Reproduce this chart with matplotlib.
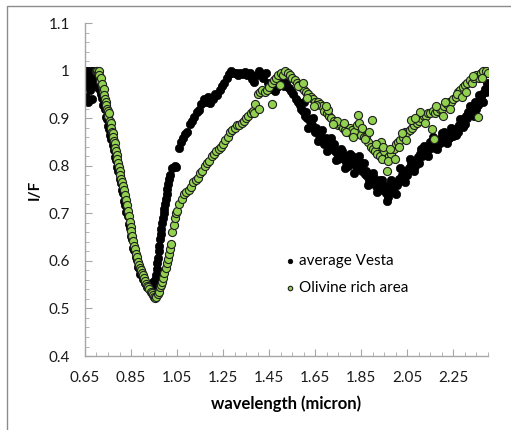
import matplotlib.pyplot as plt
from matplotlib.patches import Rectangle

# --- DATA ---
# average Vesta spectrum (black dots)
wl_vesta = [
    0.650, 0.652, 0.655, 0.657, 0.660, 0.662, 0.665, 0.668, 0.670, 0.673, 0.676, 0.679,
    0.682, 0.685, 0.688, 0.691, 0.694, 0.697, 0.700, 0.703, 0.706, 0.709, 0.712, 0.715,
    0.720, 0.725, 0.730, 0.735, 0.740, 0.745, 0.750, 0.755, 0.760, 0.765, 0.770, 0.775,
    0.780, 0.785, 0.790, 0.795, 0.800, 0.805, 0.810, 0.815, 0.820, 0.825, 0.830, 0.835,
    0.840, 0.845, 0.850, 0.855, 0.860, 0.865, 0.870, 0.875, 0.880, 0.885, 0.890, 0.895,
    0.900, 0.905, 0.910, 0.915, 0.920, 0.925, 0.930, 0.935, 0.940, 0.945, 0.950,
    0.955, 0.958, 0.961, 0.964, 0.967, 0.970, 0.973, 0.976, 0.979, 0.982, 0.985, 0.988,
    0.991, 0.994, 0.997, 1.000, 1.004, 1.008, 1.012, 1.016, 1.020, 1.030, 1.040, 1.045,
    1.060, 1.065, 1.075, 1.085, 1.095, 1.105, 1.115, 1.125, 1.135, 1.145, 1.155, 1.165,
    1.175, 1.185, 1.195, 1.205, 1.215, 1.225, 1.235, 1.245, 1.255, 1.265, 1.275, 1.285,
    1.295, 1.305, 1.315, 1.325, 1.335, 1.345, 1.355, 1.365, 1.375, 1.385, 1.395, 1.405,
    1.415, 1.425, 1.435, 1.445, 1.455, 1.465, 1.475, 1.485, 1.495, 1.505, 1.515, 1.525,
    1.535, 1.545,
    1.555, 1.565, 1.575, 1.585, 1.595, 1.605, 1.615, 1.625, 1.635, 1.645, 1.655, 1.665,
    1.675, 1.685, 1.695, 1.705, 1.715, 1.725, 1.735, 1.745, 1.755, 1.765, 1.775, 1.785,
    1.795, 1.805, 1.815, 1.825, 1.835, 1.845, 1.855, 1.865, 1.875, 1.885, 1.895, 1.905,
    1.915, 1.925, 1.935, 1.945, 1.955, 1.965, 1.975, 1.985, 1.995, 2.005, 2.015, 2.025,
    2.035, 2.045, 2.055, 2.065, 2.075, 2.085, 2.095, 2.105, 2.115, 2.125, 2.135, 2.145,
    2.155, 2.165, 2.175, 2.185, 2.195, 2.205, 2.215, 2.225, 2.235, 2.245, 2.255, 2.265,
    2.275, 2.285, 2.295, 2.305, 2.315, 2.325, 2.335, 2.345, 2.355, 2.365, 2.375, 2.385,
    2.395, 2.400,
    1.590, 1.610, 1.630, 1.650, 1.670, 1.690, 1.710, 1.730, 1.750, 1.770, 1.790, 1.810,
    1.830, 1.850, 1.870, 1.890, 1.910, 1.930, 1.950, 1.970, 1.990, 2.010, 2.030, 2.050,
    2.070, 2.090, 2.110, 2.130, 2.150, 2.170, 2.190, 2.210, 2.230, 2.250, 2.270, 2.290,
    2.310, 2.330, 2.350, 2.370, 2.390,
    1.600, 1.620, 1.640, 1.660, 1.680, 1.700, 1.720, 1.740, 1.760, 1.780, 1.800, 1.820,
    1.840, 1.860, 1.880, 1.900, 1.920, 1.940, 1.960, 1.980, 2.000, 2.020, 2.040, 2.060,
    2.080, 2.100, 2.120, 2.140, 2.160, 2.180, 2.200, 2.220, 2.240, 2.260, 2.280, 2.300,
    2.320, 2.340, 2.360, 2.380,
]
if_vesta = [
    1.000, 0.985, 0.945, 0.970, 1.000, 0.990, 0.935, 0.975, 1.000, 0.960, 0.995, 0.940,
    0.985, 1.000, 0.970, 0.990, 1.000, 0.975, 0.995, 0.965, 1.000, 0.985, 0.975, 0.960,
    0.950, 0.942, 0.928, 0.920, 0.903, 0.899, 0.884, 0.877, 0.864, 0.857, 0.843, 0.834,
    0.818, 0.812, 0.798, 0.790, 0.773, 0.764, 0.748, 0.742, 0.726, 0.718, 0.703, 0.694,
    0.678, 0.670, 0.653, 0.645, 0.628, 0.622, 0.608, 0.602, 0.588, 0.585, 0.573, 0.572,
    0.563, 0.562, 0.553, 0.553, 0.546, 0.547, 0.544, 0.550, 0.548, 0.555, 0.554,
    0.560, 0.570, 0.582, 0.595, 0.607, 0.620, 0.632, 0.645, 0.657, 0.668, 0.680, 0.690,
    0.700, 0.710, 0.720, 0.730, 0.740, 0.752, 0.762, 0.772, 0.780, 0.795, 0.800, 0.798,
    0.838, 0.850, 0.858, 0.867, 0.872, 0.888, 0.895, 0.902, 0.912, 0.918, 0.930, 0.940,
    0.935, 0.945, 0.932, 0.940, 0.950, 0.948, 0.960, 0.968, 0.975, 0.985, 0.992, 1.000,
    0.996, 0.994, 0.990, 0.996, 0.992, 0.998, 0.990, 0.994, 0.982, 0.976, 0.990, 1.000,
    0.993, 0.985, 0.995, 0.975, 0.962, 0.968, 0.958, 0.966, 0.972, 0.978, 0.968, 0.974,
    0.963, 0.958,
    0.950, 0.940, 0.935, 0.928, 0.915, 0.905, 0.900, 0.895, 0.885, 0.878, 0.880, 0.865,
    0.860, 0.852, 0.858, 0.848, 0.845, 0.838, 0.832, 0.826, 0.822, 0.830, 0.815, 0.808,
    0.818, 0.806, 0.810, 0.800, 0.795, 0.808, 0.790, 0.782, 0.778, 0.770, 0.765, 0.775,
    0.758, 0.762, 0.752, 0.748, 0.742, 0.735, 0.748, 0.755, 0.762, 0.760, 0.772, 0.780,
    0.770, 0.790, 0.795, 0.805, 0.810, 0.800, 0.818, 0.825, 0.820, 0.832, 0.838, 0.835,
    0.845, 0.850, 0.842, 0.855, 0.858, 0.852, 0.862, 0.865, 0.860, 0.870, 0.876, 0.880,
    0.885, 0.890, 0.898, 0.905, 0.912, 0.918, 0.925, 0.935, 0.928, 0.940, 0.950, 0.962,
    0.975, 0.968,
    0.920, 0.912, 0.888, 0.870, 0.872, 0.845, 0.835, 0.845, 0.815, 0.822, 0.800, 0.820,
    0.812, 0.798, 0.790, 0.778, 0.768, 0.770, 0.755, 0.760, 0.745, 0.765, 0.790, 0.780,
    0.795, 0.808, 0.835, 0.825, 0.850, 0.838, 0.848, 0.870, 0.858, 0.862, 0.872, 0.882,
    0.900, 0.910, 0.920, 0.945, 0.955,
    0.935, 0.880, 0.900, 0.852, 0.875, 0.830, 0.858, 0.812, 0.835, 0.795, 0.825, 0.785,
    0.820, 0.805, 0.760, 0.785, 0.745, 0.770, 0.725, 0.770, 0.740, 0.795, 0.765, 0.815,
    0.790, 0.805, 0.842, 0.820, 0.860, 0.835, 0.868, 0.848, 0.880, 0.865, 0.898, 0.888,
    0.925, 0.905, 0.948, 0.935,
]

# olivine rich area spectrum (green dots)
wl_olivine = [
    0.698, 0.702, 0.706, 0.710, 0.713, 0.716, 0.719, 0.722, 0.725, 0.728, 0.731, 0.734,
    0.737, 0.740, 0.743, 0.746, 0.749, 0.752, 0.755, 0.758, 0.761, 0.764, 0.767, 0.770,
    0.773, 0.776, 0.779, 0.782, 0.785, 0.788, 0.791, 0.794, 0.797, 0.800, 0.804, 0.808,
    0.812, 0.816, 0.820, 0.824, 0.828, 0.832, 0.836, 0.840, 0.844, 0.848, 0.852, 0.856,
    0.860, 0.864, 0.868, 0.872, 0.876, 0.880, 0.884, 0.888, 0.892, 0.896, 0.900, 0.905,
    0.910, 0.915, 0.920, 0.925, 0.930, 0.935, 0.940, 0.945, 0.950, 0.955,
    0.960, 0.965, 0.970, 0.975, 0.980, 0.985, 0.990, 0.995, 1.000, 1.005, 1.010, 1.015,
    1.020, 1.025, 1.030, 1.035, 1.040, 1.045, 1.050, 1.060, 1.070, 1.080, 1.090, 1.100,
    1.110, 1.120, 1.130, 1.140, 1.150, 1.160, 1.170, 1.180, 1.190, 1.200, 1.210, 1.220,
    1.230, 1.240, 1.250, 1.260, 1.270, 1.280, 1.290, 1.300, 1.310, 1.320, 1.330, 1.340,
    1.350, 1.360, 1.370, 1.380, 1.390, 1.400, 1.410, 1.420, 1.430, 1.440, 1.450, 1.460,
    1.470, 1.480, 1.490, 1.500, 1.510, 1.520, 1.530, 1.540, 1.550,
    1.560, 1.570, 1.580, 1.590, 1.600, 1.610, 1.620, 1.630, 1.640, 1.650, 1.660, 1.670,
    1.680, 1.690, 1.700, 1.710, 1.720, 1.730, 1.740, 1.750, 1.760, 1.770, 1.780, 1.790,
    1.800, 1.810, 1.820, 1.830, 1.840, 1.850, 1.860, 1.870, 1.880, 1.890, 1.900, 1.910,
    1.920, 1.930, 1.940, 1.950, 1.960, 1.970, 1.980, 1.990, 2.000, 2.010, 2.020, 2.030,
    2.040, 2.050, 2.060, 2.070, 2.080, 2.090, 2.100, 2.110, 2.120, 2.130, 2.140, 2.150,
    2.160, 2.170, 2.180, 2.190, 2.200, 2.210, 2.220, 2.230, 2.240, 2.250, 2.260, 2.270,
    2.280, 2.290, 2.300, 2.310, 2.320, 2.330, 2.340, 2.350, 2.360, 2.370, 2.380, 2.390,
    2.400,
    1.385, 1.405, 1.463, 1.497, 1.575, 1.615, 1.655, 1.705, 1.745, 1.785, 1.835, 1.865,
    1.895, 1.935, 1.965, 2.015, 2.065, 2.105, 2.155, 2.165, 2.215, 2.265, 2.335, 2.355,
    1.595, 1.645, 1.695, 1.725, 1.775, 1.815, 1.855, 1.885, 1.915, 1.945, 1.975, 1.995,
    2.025, 2.045, 2.085, 2.125, 2.175, 2.205, 2.235, 2.285, 2.305, 2.375,
]
if_olivine = [
    1.000, 1.000, 0.995, 1.000, 0.990, 0.978, 0.985, 0.968, 0.972, 0.958, 0.962, 0.948,
    0.940, 0.935, 0.928, 0.920, 0.915, 0.905, 0.910, 0.895, 0.890, 0.880, 0.872, 0.868,
    0.860, 0.852, 0.848, 0.838, 0.830, 0.822, 0.815, 0.805, 0.798, 0.790, 0.780, 0.772,
    0.765, 0.758, 0.748, 0.738, 0.728, 0.718, 0.705, 0.695, 0.682, 0.672, 0.662, 0.652,
    0.642, 0.632, 0.625, 0.615, 0.608, 0.598, 0.592, 0.585, 0.580, 0.575, 0.570, 0.565,
    0.558, 0.552, 0.548, 0.545, 0.540, 0.535, 0.532, 0.528, 0.525, 0.522,
    0.525, 0.530, 0.535, 0.545, 0.550, 0.555, 0.565, 0.575, 0.585, 0.595, 0.605, 0.615,
    0.625, 0.635, 0.660, 0.675, 0.690, 0.700, 0.705, 0.720, 0.730, 0.740, 0.745, 0.750,
    0.755, 0.765, 0.770, 0.775, 0.785, 0.790, 0.800, 0.805, 0.810, 0.820, 0.825, 0.830,
    0.835, 0.840, 0.845, 0.855, 0.860, 0.870, 0.875, 0.880, 0.885, 0.885, 0.890, 0.895,
    0.900, 0.905, 0.910, 0.915, 0.930, 0.950, 0.955, 0.960, 0.955, 0.960, 0.965, 0.975,
    0.980, 0.985, 0.990, 0.995, 0.990, 1.000, 0.995, 0.990, 0.985,
    0.980, 0.975, 0.970, 0.965, 0.960, 0.955, 0.950, 0.945, 0.940, 0.935, 0.935, 0.930,
    0.925, 0.915, 0.910, 0.905, 0.900, 0.895, 0.890, 0.885, 0.885, 0.880, 0.875, 0.870,
    0.880, 0.875, 0.870, 0.885, 0.890, 0.865, 0.860, 0.860, 0.850, 0.840, 0.835, 0.830,
    0.825, 0.820, 0.815, 0.830, 0.790, 0.820, 0.825, 0.835, 0.845, 0.850, 0.855, 0.860,
    0.870, 0.870, 0.875, 0.880, 0.885, 0.890, 0.895, 0.900, 0.905, 0.905, 0.910, 0.910,
    0.915, 0.910, 0.915, 0.920, 0.920, 0.925, 0.930, 0.935, 0.935, 0.940, 0.945, 0.955,
    0.960, 0.965, 0.970, 0.975, 0.980, 0.975, 0.985, 0.990, 0.985, 0.995, 1.000, 1.000,
    0.995,
    0.910, 0.920, 0.930, 0.970, 0.968, 0.942, 0.928, 0.918, 0.895, 0.870, 0.907, 0.857,
    0.897, 0.850, 0.810, 0.840, 0.897, 0.914, 0.878, 0.857, 0.935, 0.950, 0.988, 0.903,
    0.975, 0.925, 0.925, 0.888, 0.890, 0.860, 0.880, 0.870, 0.845, 0.840, 0.835, 0.815,
    0.868, 0.855, 0.900, 0.890, 0.925, 0.905, 0.920, 0.945, 0.955, 0.985,
]

x_ticks = [0.65, 0.85, 1.05, 1.25, 1.45, 1.65, 1.85, 2.05, 2.25]
x_ticklabels = ['0.65', '0.85', '1.05', '1.25', '1.45', '1.65', '1.85', '2.05', '2.25']
y_ticks = [0.4, 0.5, 0.6, 0.7, 0.8, 0.9, 1.0, 1.1]
y_ticklabels = ['0.4', '0.5', '0.6', '0.7', '0.8', '0.9', '1', '1.1']

# --- FIGURE ---
plt.rcParams['font.family'] = ['Lato', 'DejaVu Sans']
fig = plt.figure(figsize=(5.11, 4.30), dpi=100)
ax = fig.add_axes([0.1663, 0.172, 0.7887, 0.7744])

# thin grey frame of the chart area (only top/left edges are visible)
fig.patches.append(Rectangle((0.014, -0.05), 1.2, 1.036, transform=fig.transFigure,
                             fill=False, edgecolor='#8c8c8c', linewidth=1.0))

ax.scatter(wl_vesta, if_vesta, s=36, color='black', edgecolors='black',
           linewidths=0.5, label='average Vesta', zorder=2)
ax.scatter(wl_olivine, if_olivine, s=34, color='#92D050', edgecolors='#1f1f1f',
           linewidths=0.8, label='Olivine rich area', zorder=3)

ax.set_xlim(0.65, 2.40)
ax.set_ylim(0.4, 1.1)
ax.set_xticks(x_ticks)
ax.set_xticklabels(x_ticklabels)
ax.set_xticks([0.65 + 0.05 * i for i in range(36)], minor=True)
ax.set_yticks(y_ticks)
ax.set_yticklabels(y_ticklabels)
ax.set_yticks([0.4 + 0.02 * i for i in range(36)], minor=True)

for side in ['top', 'right']:
    ax.spines[side].set_visible(False)
for side in ['left', 'bottom']:
    ax.spines[side].set_color('#a6a6a6')
    ax.spines[side].set_linewidth(1.0)

ax.tick_params(axis='both', which='both', direction='in', color='#a6a6a6',
               labelsize=11, labelcolor='#1a1a1a')
ax.tick_params(axis='both', which='major', length=5)
ax.tick_params(axis='both', which='minor', length=3)
ax.tick_params(axis='y', which='major', pad=11)
ax.tick_params(axis='x', which='major', pad=11)

ax.set_xlabel('wavelength (micron)', fontsize=12, fontweight='bold', labelpad=7)
ax.set_ylabel('I/F', fontsize=11, fontweight='bold', labelpad=5)

ax.legend(loc='center left', bbox_to_anchor=(0.47, 0.245), frameon=False,
          fontsize=11, markerscale=0.55, handletextpad=0.1, labelspacing=0.9,
          borderpad=0, handlelength=1.0)

fig.savefig('out.png', dpi=100)
